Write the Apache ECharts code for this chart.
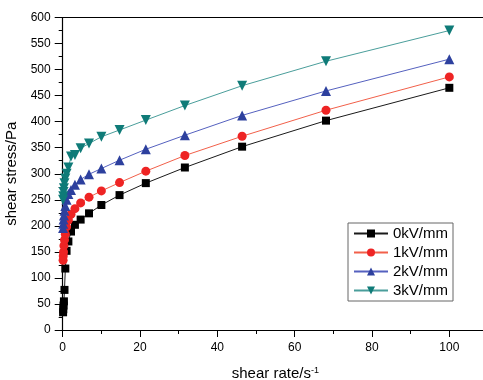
<!DOCTYPE html>
<html>
<head>
<meta charset="utf-8">
<script src="https://cdn.jsdelivr.net/npm/echarts@6/dist/echarts.min.js"></script>
<style>
  html, body { margin: 0; padding: 0; background: #fff; }
  #chart { width: 483px; height: 380px; }
</style>
</head>
<body>
<div id="chart"></div>
<script>
// shear rate values (s^-1)
const shearRate = [0.1, 0.147, 0.215, 0.316, 0.464, 0.681, 1, 1.47, 2.15, 3.16, 4.64, 6.81, 10, 14.7, 21.5, 31.6, 46.4, 68.1, 100];

// shear stress (Pa) for each field strength
const stress0kV = [34, 40, 47, 55, 77, 118, 152, 170, 189, 202, 212, 224, 240, 259, 282, 312, 352, 402, 465];
const stress1kV = [134, 142, 150, 162, 173, 184, 198, 211, 222, 233, 244, 255, 267, 283, 305, 335, 372, 422, 486];
const stress2kV = [196, 204, 212, 220, 229, 238, 250, 261, 269, 279, 289, 299, 310, 326, 347, 374, 412, 459, 520];
const stress3kV = [250, 257, 265, 272, 282, 291, 300, 312, 333, 336, 349, 358, 371, 384, 403, 431, 469, 516, 575];

const seriesNames = ['0kV/mm', '1kV/mm', '2kV/mm', '3kV/mm'];

const font = '"Liberation Sans", Arial, sans-serif';

const pairs = (ys) => shearRate.map((x, i) => [x, ys[i]]);

const chart = echarts.init(document.getElementById('chart'));

const axisCommon = {
  axisLine: { lineStyle: { color: '#000', width: 1.2 } },
  axisLabel: { color: '#000', fontSize: 12, fontFamily: font },
  splitLine: { show: false },
  nameTextStyle: { color: '#000', fontSize: 15, fontFamily: font }
};

const option = {
  animation: false,
  backgroundColor: '#fff',
  grid: { left: 62.7, top: 17.5, bottom: 50, right: -5, outerBoundsMode: 'none', containLabel: false },
  xAxis: [
    {
      ...axisCommon,
      type: 'value',
      min: 0,
      max: 110,
      interval: 20,
      position: 'bottom',
      axisTick: { length: 7, lineStyle: { color: '#000' } },
      minorTick: { show: true, splitNumber: 2, length: 4, lineStyle: { color: '#000' } },
      axisLabel: { ...axisCommon.axisLabel, margin: 12, showMaxLabel: false },
      name: 'shear rate/s{sup|-1}',
      nameLocation: 'middle',
      nameGap: 36,
      nameTextStyle: {
        ...axisCommon.nameTextStyle,
        rich: {
          sup: { fontSize: 9, fontFamily: font, color: '#000', verticalAlign: 'top', padding: [0, 0, 6, 0] }
        }
      }
    },
    {
      type: 'value',
      min: 0,
      max: 110,
      position: 'top',
      axisLine: { show: true, lineStyle: { color: '#000', width: 1.2 } },
      axisTick: { show: false },
      axisLabel: { show: false },
      splitLine: { show: false }
    }
  ],
  yAxis: {
    ...axisCommon,
    type: 'value',
    min: 0,
    max: 600,
    interval: 50,
    axisTick: { length: 8, lineStyle: { color: '#000' } },
    minorTick: { show: true, splitNumber: 2, length: 4, lineStyle: { color: '#000' } },
    axisLabel: { ...axisCommon.axisLabel, margin: 12 },
    name: 'shear stress/Pa',
    nameLocation: 'middle',
    nameGap: 37
  },
  legend: {
    data: seriesNames,
    orient: 'vertical',
    left: 348,
    top: 223,
    padding: [3, 5, 3, 5],
    itemGap: 4,
    itemWidth: 34,
    itemHeight: 10,
    borderColor: '#666',
    borderWidth: 1,
    textStyle: { color: '#000', fontSize: 15, fontFamily: font }
  },
  series: [
    {
      name: '0kV/mm',
      type: 'line',
      data: pairs(stress0kV),
      symbol: 'rect',
      symbolSize: 8,
      itemStyle: { color: '#000' },
      lineStyle: { color: '#1a1a1a', width: 1 }
    },
    {
      name: '1kV/mm',
      type: 'line',
      data: pairs(stress1kV),
      symbol: 'circle',
      symbolSize: 9,
      itemStyle: { color: '#ee2424' },
      lineStyle: { color: '#f2604a', width: 1 }
    },
    {
      name: '2kV/mm',
      type: 'line',
      data: pairs(stress2kV),
      symbol: 'triangle',
      symbolSize: 10,
      itemStyle: { color: '#2d409e' },
      lineStyle: { color: '#5561bf', width: 1 }
    },
    {
      name: '3kV/mm',
      type: 'line',
      data: pairs(stress3kV),
      symbol: 'triangle',
      symbolRotate: 180,
      symbolSize: 10,
      itemStyle: { color: '#0f7b78' },
      lineStyle: { color: '#4a9e9b', width: 1 }
    }
  ]
};

chart.setOption(option);
</script>
</body>
</html>
